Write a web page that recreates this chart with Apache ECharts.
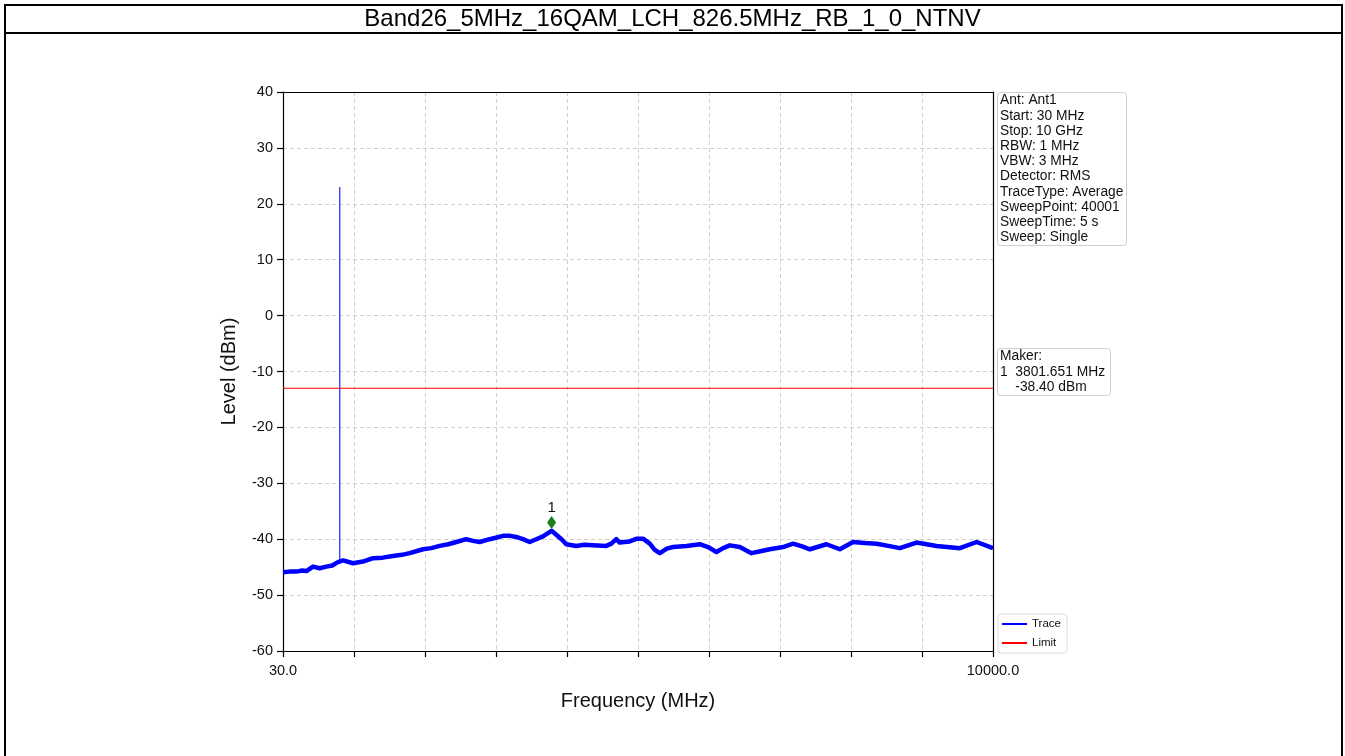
<!DOCTYPE html>
<html>
<head>
<meta charset="utf-8">
<script src="https://cdn.jsdelivr.net/npm/echarts@6/dist/echarts.min.js"></script>
<style>
html,body{margin:0;padding:0;background:#fff;}
#chart{width:1345px;height:756px;}
</style>
</head>
<body>
<div id="chart"></div>
<script>
// ---- data ----
const titleText = 'Band26_5MHz_16QAM_LCH_826.5MHz_RB_1_0_NTNV';
const traceFreq = [30, 120, 217, 300, 358, 451, 545, 638, 720, 802, 873, 1013, 1153, 1294, 1430, 1575, 1700, 1809, 1996, 2110, 2230, 2350, 2464, 2604, 2700, 2792, 2932, 3030, 3119, 3220, 3306, 3400, 3494, 3587, 3680, 3740, 3801.651, 3868, 3940, 4008, 4148, 4260, 4383, 4570, 4640, 4710, 4757, 4898, 5000, 5085, 5180, 5250, 5321, 5420, 5507, 5696, 5882, 6000, 6117, 6210, 6304, 6444, 6609, 6750, 6866, 7053, 7193, 7320, 7428, 7662, 7849, 8036, 8200, 8365, 8530, 8692, 8926, 9207, 9535, 9770, 10000];
const traceLevel = [-45.9, -45.8, -45.8, -45.6, -45.7, -44.9, -45.2, -44.9, -44.7, -44.1, -43.8, -44.3, -44.0, -43.4, -43.3, -43.0, -42.8, -42.5, -41.8, -41.6, -41.2, -40.9, -40.5, -40.0, -40.3, -40.5, -40.0, -39.7, -39.4, -39.4, -39.6, -40.0, -40.5, -40.0, -39.5, -39.0, -38.5, -39.2, -40.0, -40.9, -41.2, -41.0, -41.1, -41.2, -40.8, -40.0, -40.6, -40.4, -39.9, -39.9, -40.8, -41.9, -42.5, -41.7, -41.4, -41.2, -40.9, -41.4, -42.3, -41.6, -41.1, -41.4, -42.5, -42.1, -41.8, -41.4, -40.8, -41.3, -41.8, -40.9, -41.8, -40.5, -40.7, -40.8, -41.2, -41.6, -40.6, -41.2, -41.6, -40.5, -41.6];
const spikeFreq = [826.5, 826.5];
const spikeLevel = [-44.0, 23.0];
const limitFreq = [30, 10000];
const limitLevel = [-13, -13];
const markerFreq = 3801.651;
const markerLevel = -38.40;
const markerDrawnLevel = -37.0;
const xTickLabels = [30, 10000];
const infoLines = ['Ant: Ant1', 'Start: 30 MHz', 'Stop: 10 GHz', 'RBW: 1 MHz', 'VBW: 3 MHz', 'Detector: RMS', 'TraceType: Average', 'SweepPoint: 40001', 'SweepTime: 5 s', 'Sweep: Single'];
const markerLines = ['Maker:', '1  ' + markerFreq.toFixed(3) + ' MHz', '    ' + markerLevel.toFixed(2) + ' dBm'];

// ---- chart ----
const FONT = '"Liberation Sans", Arial, sans-serif';
const zip = (a, b) => a.map((v, i) => [v, b[i]]);
const chart = echarts.init(document.getElementById('chart'), null, {renderer: 'canvas'});
const gridDash = {color: '#c4c4c4', width: 0.8, type: [4, 3]};
const frameLine = {show: true, onZero: false, lineStyle: {color: '#000', width: 1.2}};
const infoText = {fontFamily: FONT, fontSize: 13.8, lineHeight: 15.2, fontWeight: 'normal', color: '#111'};

chart.setOption({
  animation: false,
  backgroundColor: '#fff',
  textStyle: {fontFamily: FONT},
  title: [
    {text: titleText, left: 'center', top: 7, padding: 0,
     textStyle: {fontFamily: FONT, fontSize: 24, fontWeight: 'normal', color: '#000'}},
    {text: infoLines.join('\n'), left: 997, top: 92, padding: [1, 3, 1, 3],
     borderColor: '#cfcfcf', borderWidth: 1, borderRadius: 3, backgroundColor: '#fff',
     textStyle: infoText},
    {text: markerLines.join('\n'), left: 997, top: 348, padding: [1, 6, 1, 3],
     borderColor: '#cfcfcf', borderWidth: 1, borderRadius: 3, backgroundColor: '#fff',
     textStyle: infoText}
  ],
  graphic: [
    {type: 'rect', shape: {x: 5, y: 5, width: 1337, height: 780}, style: {fill: 'none', stroke: '#000', lineWidth: 2}, z: 100},
    {type: 'line', shape: {x1: 5, y1: 33, x2: 1342, y2: 33}, style: {stroke: '#000', lineWidth: 2}, z: 100}
  ],
  legend: {
    data: ['Trace', 'Limit'], orient: 'vertical', left: 998, top: 614,
    icon: 'rect', itemWidth: 25, itemHeight: 2, itemGap: 7,
    padding: [4, 6, 4, 4], borderColor: '#dcdcdc', borderWidth: 1, borderRadius: 3,
    textStyle: {fontFamily: FONT, fontSize: 11.5, color: '#111'}
  },
  grid: {left: 283, top: 92, width: 710, height: 559, show: false, containLabel: false},
  xAxis: [
    {type: 'value', min: 30, max: 10000, position: 'bottom',
     name: 'Frequency (MHz)', nameLocation: 'middle', nameGap: 40,
     nameTextStyle: {fontFamily: FONT, fontSize: 20, color: '#111'},
     axisLine: frameLine,
     axisTick: {show: false},
     splitLine: {show: false},
     axisLabel: {customValues: xTickLabels, formatter: v => Number(v).toFixed(1), margin: 12,
       fontFamily: FONT, fontSize: 14.5, color: '#111', showMinLabel: true, showMaxLabel: true}},
    {type: 'value', min: 0, max: 9970, interval: 997, position: 'bottom',
     axisLine: {show: false, onZero: false},
     axisTick: {show: true, length: 6, inside: false, lineStyle: {color: '#000', width: 1.2}},
     axisLabel: {show: false},
     splitLine: {show: true, lineStyle: gridDash}},
    {type: 'value', min: 30, max: 10000, position: 'top',
     axisLine: frameLine, axisTick: {show: false}, axisLabel: {show: false}, splitLine: {show: false}}
  ],
  yAxis: [
    {type: 'value', min: -60, max: 40, interval: 10, position: 'left',
     name: 'Level (dBm)', nameLocation: 'middle', nameGap: 44,
     nameTextStyle: {fontFamily: FONT, fontSize: 20, color: '#111'},
     axisLine: frameLine,
     axisTick: {show: true, length: 6, inside: false, lineStyle: {color: '#000', width: 1.2}},
     axisLabel: {margin: 10, fontFamily: FONT, fontSize: 14.5, color: '#111'},
     splitLine: {show: true, lineStyle: gridDash}},
    {type: 'value', min: -60, max: 40, interval: 10, position: 'right',
     axisLine: frameLine, axisTick: {show: false}, axisLabel: {show: false}, splitLine: {show: false}}
  ],
  series: [
    {name: 'Trace', type: 'line', xAxisIndex: 0, yAxisIndex: 0, data: zip(traceFreq, traceLevel), showSymbol: false,
     symbol: 'none', lineStyle: {color: '#0000ff', width: 4.5, join: 'round'}, itemStyle: {color: '#0000ff'}, z: 4},
    {name: 'Carrier', type: 'line', xAxisIndex: 0, yAxisIndex: 0, data: zip(spikeFreq, spikeLevel), showSymbol: false,
     symbol: 'none', lineStyle: {color: '#4040ff', width: 1.4}, itemStyle: {color: '#4040ff'}, z: 3},
    {name: 'Limit', type: 'line', xAxisIndex: 0, yAxisIndex: 0, data: zip(limitFreq, limitLevel), showSymbol: false,
     symbol: 'none', lineStyle: {color: '#ff0000', width: 1.2}, itemStyle: {color: '#ff0000'}, z: 5},
    {name: 'Marker', type: 'scatter', xAxisIndex: 0, yAxisIndex: 0, data: [[markerFreq, markerDrawnLevel]],
     symbol: 'diamond', symbolSize: [9, 13], itemStyle: {color: '#1a7f1a', opacity: 1}, z: 6,
     label: {show: true, position: 'top', distance: 1, formatter: '1', fontFamily: FONT, fontSize: 15, color: '#111'}}
  ]
});
</script>
</body>
</html>
